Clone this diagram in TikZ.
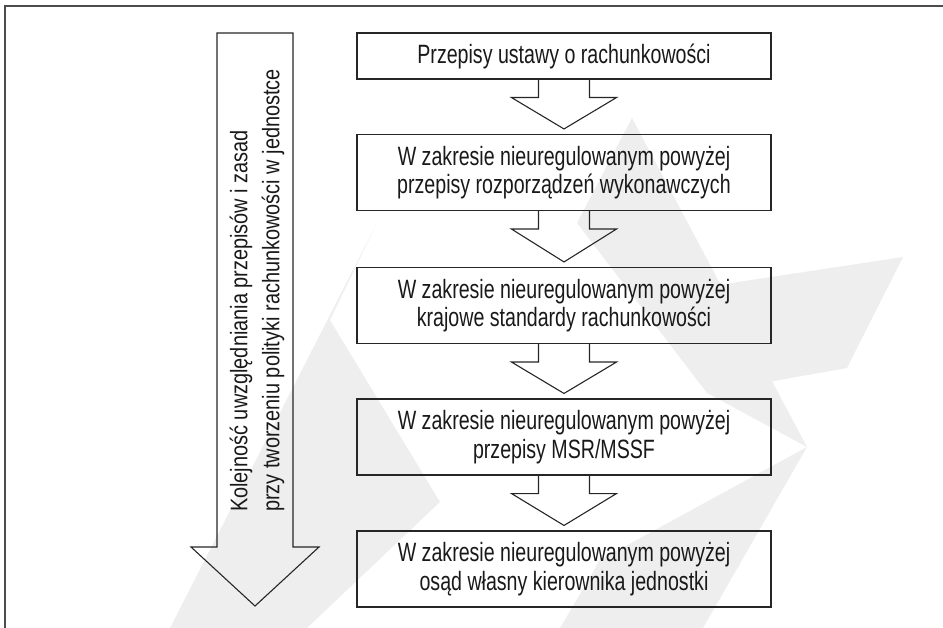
\documentclass[tikz,border=0pt]{standalone}
\usepackage{fontspec}
\setmainfont[FakeStretch=0.74]{Liberation Sans}
\newfontfamily\sidefont[FakeStretch=0.83]{Liberation Sans}
\usetikzlibrary{calc}
\definecolor{wmark}{RGB}{238,238,238}
\begin{document}
\begin{tikzpicture}[x=1pt,y=-1pt,
  box/.style={draw=black!85, line width=1.1pt, minimum width=414pt, minimum height=76pt,
    inner sep=0pt, align=center, font=\fontsize{26.5}{28.5}\selectfont, text=black!90},
  flowarrow/.style={draw=black!85, line width=1.1pt, line join=miter},
  frame/.style={draw=black!70, line width=1.3pt},
  wm/.style={fill=wmark, draw=none},
  bigarrow/.style={draw=black!85, line width=1.1pt, line join=miter}]
\useasboundingbox (0,0) rectangle (943,628);
% faint watermark
\fill[wm] (632,118) -- (807,447) -- (707,393) -- (577,223) -- cycle;
\fill[wm] (672,292) -- (903,257) -- (847,368) -- (707,393) -- cycle;
\fill[wm] (377,223) -- (170,628) -- (307,628) -- (440,502) -- (330,320) -- cycle;
\fill[wm] (807,447) -- (703,628) -- (560,628) -- (600,560) -- cycle;
\draw[frame] (5,628) -- (5,6) -- (943,6);
% boxes
\node[box, minimum height=46pt] (b1) at (564,56) {Przepisy ustawy o rachunkowości};
\node[box] (b2) at (564,172.5) {W zakresie nieuregulowanym powyżej\\przepisy rozporządzeń wykonawczych};
\node[box] (b3) at (564,305.5) {W zakresie nieuregulowanym powyżej\\krajowe standardy rachunkowości};
\node[box] (b4) at (564,437) {W zakresie nieuregulowanym powyżej\\przepisy MSR/MSSF};
\node[box] (b5) at (564,569) {W zakresie nieuregulowanym powyżej\\osąd własny kierownika jednostki};
% block arrows between boxes
\foreach \a/\b in {b1/b2,b2/b3,b3/b4,b4/b5}{
  \draw[flowarrow] ([xshift=-25.5pt]\a.south) -- ++(0,18) -- ++(-27,0)
     -- ($(\b.north)+(0,-5)$) -- ($(\a.south)+(52.5,18)$) -- ++(-27,0) -- ++(0,-18);
}
% big left arrow
\draw[bigarrow] (217,33) -- (293,33) -- (293,547) -- (319,547) -- (255,606)
   -- (191,547) -- (217,547) -- cycle;
\node[rotate=90, align=left, inner sep=0pt, text=black!90,
  font=\sidefont\fontsize{24}{32}\selectfont] (side) at (257,290.5)
  {Kolejność uwzględniania przepisów i zasad\\przy tworzeniu polityki rachunkowości w jednostce};
\end{tikzpicture}
\end{document}
